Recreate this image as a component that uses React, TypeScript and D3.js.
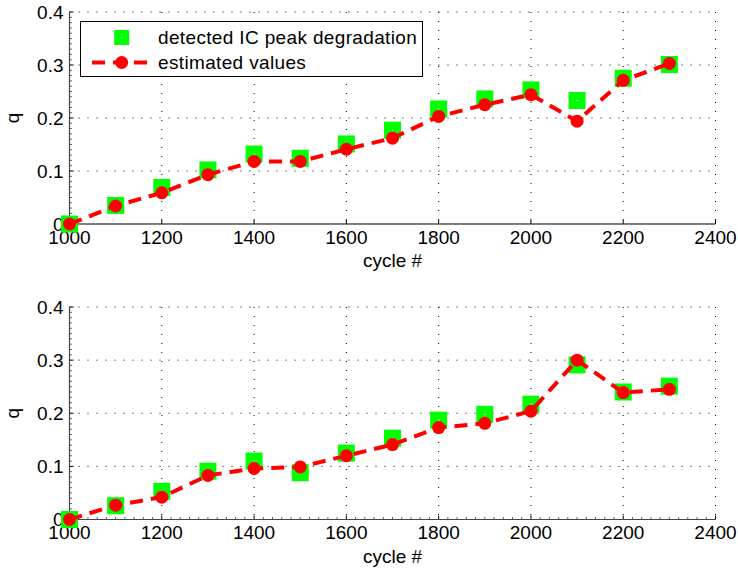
import React from "react";
import * as d3 from "d3";

// Cycle numbers shared by both panels
const cycles = [1000, 1100, 1200, 1300, 1400, 1500, 1600, 1700, 1800, 1900, 2000, 2100, 2200, 2300];

// Upper panel
const detectedTop = [0.0, 0.035, 0.069, 0.102, 0.132, 0.124, 0.151, 0.177, 0.217, 0.236, 0.253, 0.233, 0.275, 0.301];
const estimatedTop = [0.0, 0.034, 0.059, 0.093, 0.118, 0.118, 0.141, 0.162, 0.203, 0.225, 0.244, 0.194, 0.271, 0.303];

// Lower panel
const detectedBottom = [0.0, 0.026, 0.053, 0.091, 0.110, 0.088, 0.125, 0.153, 0.187, 0.198, 0.217, 0.291, 0.240, 0.251];
const estimatedBottom = [0.0, 0.027, 0.042, 0.083, 0.096, 0.099, 0.120, 0.141, 0.173, 0.181, 0.204, 0.300, 0.239, 0.245];

const xTicks = [1000, 1200, 1400, 1600, 1800, 2000, 2200, 2400];
const yTicks = [0, 0.1, 0.2, 0.3, 0.4];
const xTickLabels = ["1000", "1200", "1400", "1600", "1800", "2000", "2200", "2400"];
const yTickLabels = ["0", "0.1", "0.2", "0.3", "0.4"];

const legendLabels = ["detected IC peak degradation", "estimated values"];
const xLabel = "cycle #";
const yLabel = "q";

const W = 738;
const H = 576;
const FONT = "'Liberation Sans', Arial, Helvetica, sans-serif";
const FS = 19;
const GREEN = "#00ff00";
const RED = "#ff0000";

interface PanelProps {
  top: number;
  bottom: number;
  detected: number[];
  estimated: number[];
  xMinor: boolean;
  legend: boolean;
}

function Panel({ top, bottom, detected, estimated, xMinor, legend }: PanelProps) {
  const x = d3.scaleLinear().domain([1000, 2400]).range([69.5, 715.5]);
  const y = d3.scaleLinear().domain([0, 0.4]).range([bottom, top]);
  const left = x(1000);
  const right = x(2400);

  const line = d3
    .line<number>()
    .x((_, i) => x(cycles[i]))
    .y((d) => y(d));

  const xMinorTicks = d3.range(1000, 2400 + 1e-6, 20).filter((v) => v % 200 !== 0);
  const yMinorTicks = d3.range(0, 41).map((k) => k / 100).filter((_, k) => k % 10 !== 0);

  const sq = 17;

  return (
    <g>
      {/* dotted grid */}
      {xTicks.slice(1).map((t) => (
        <line key={"gx" + t} x1={x(t)} x2={x(t)} y1={top} y2={bottom} stroke="#000" strokeWidth={1} strokeDasharray="1 8" />
      ))}
      {yTicks.slice(1).map((t) => (
        <line key={"gy" + t} x1={left} x2={right} y1={y(t)} y2={y(t)} stroke="#000" strokeWidth={1} strokeDasharray="1 8" />
      ))}

      {/* minor ticks */}
      {yMinorTicks.map((t) => (
        <line key={"my" + t} x1={left} x2={left + 2.5} y1={y(t)} y2={y(t)} stroke="#666" strokeWidth={1} />
      ))}
      {xMinor &&
        xMinorTicks.map((t) => (
          <line key={"mx" + t} x1={x(t)} x2={x(t)} y1={bottom} y2={bottom - 2.5} stroke="#666" strokeWidth={1} />
        ))}

      {/* major ticks */}
      {xTicks.map((t) => (
        <line key={"tx" + t} x1={x(t)} x2={x(t)} y1={bottom} y2={bottom - 4} stroke="#000" strokeWidth={1} />
      ))}
      {yTicks.map((t) => (
        <line key={"ty" + t} x1={left} x2={left + 4} y1={y(t)} y2={y(t)} stroke="#000" strokeWidth={1} />
      ))}

      {/* axis lines */}
      <line x1={left} x2={right} y1={bottom} y2={bottom} stroke={xMinor ? "#444" : "#000"} strokeWidth={1.2} />
      <line x1={left} x2={left} y1={top} y2={bottom} stroke="#444" strokeWidth={1.2} />

      {/* tick labels */}
      {xTicks.map((t, i) => (
        <text key={"lx" + t} x={x(t)} y={bottom + 19.5} textAnchor="middle" fontFamily={FONT} fontSize={FS} fill="#000">
          {xTickLabels[i]}
        </text>
      ))}
      {yTicks.map((t, i) => (
        <text key={"ly" + t} x={left - 6} y={y(t) + 6.8} textAnchor="end" fontFamily={FONT} fontSize={FS} fill="#000">
          {yTickLabels[i]}
        </text>
      ))}

      {/* axis titles */}
      <text x={(left + right) / 2} y={bottom + 43} textAnchor="middle" fontFamily={FONT} fontSize={FS} fill="#000">
        {xLabel}
      </text>
      <text
        transform={`translate(${19},${(top + bottom) / 2}) rotate(-90)`}
        textAnchor="middle"
        fontFamily={FONT}
        fontSize={FS}
        fill="#000"
      >
        {yLabel}
      </text>

      {/* detected values: green squares */}
      {detected.map((v, i) => (
        <g key={"d" + i}>
          <rect x={x(cycles[i]) - sq / 2} y={y(v) - sq / 2} width={sq} height={sq} fill={GREEN} />
          <rect x={x(cycles[i]) - 0.5} y={y(v) - 0.5} width={1} height={1} fill="#fff" />
        </g>
      ))}

      {/* estimated values: red dashed line with dots */}
      <path d={line(estimated) ?? ""} fill="none" stroke={RED} strokeWidth={4} strokeDasharray="13 8" />
      {estimated.map((v, i) => (
        <circle key={"e" + i} cx={x(cycles[i])} cy={y(v)} r={6.5} fill={RED} />
      ))}

      {legend && (
        <g>
          <rect x={80.5} y={21.5} width={342} height={55} fill="#fff" stroke="#000" strokeWidth={1} />
          <rect x={121.7 - 7.5} y={37.5 - 7.5} width={15} height={15} fill={GREEN} />
          <rect x={121.2} y={37} width={1} height={1} fill="#fff" />
          <text x={158} y={44} fontFamily={FONT} fontSize={FS} letterSpacing={0.35} fill="#000">
            {legendLabels[0]}
          </text>
          <line x1={92} x2={152} y1={62.5} y2={62.5} stroke={RED} strokeWidth={4} strokeDasharray="13 8" />
          <circle cx={121.7} cy={62.5} r={6.5} fill={RED} />
          <text x={158} y={69} fontFamily={FONT} fontSize={FS} letterSpacing={0.35} fill="#000">
            {legendLabels[1]}
          </text>
        </g>
      )}
    </g>
  );
}

export default function App() {
  return (
    <svg width={W} height={H} viewBox={`0 0 ${W} ${H}`} style={{ display: "block", position: "absolute", left: 0, top: 0, background: "#fff" }}>
      <rect x={0} y={0} width={W} height={H} fill="#fff" />
      <Panel top={12} bottom={224} detected={detectedTop} estimated={estimatedTop} xMinor={false} legend={true} />
      <Panel top={307} bottom={519.5} detected={detectedBottom} estimated={estimatedBottom} xMinor={true} legend={false} />
    </svg>
  );
}
